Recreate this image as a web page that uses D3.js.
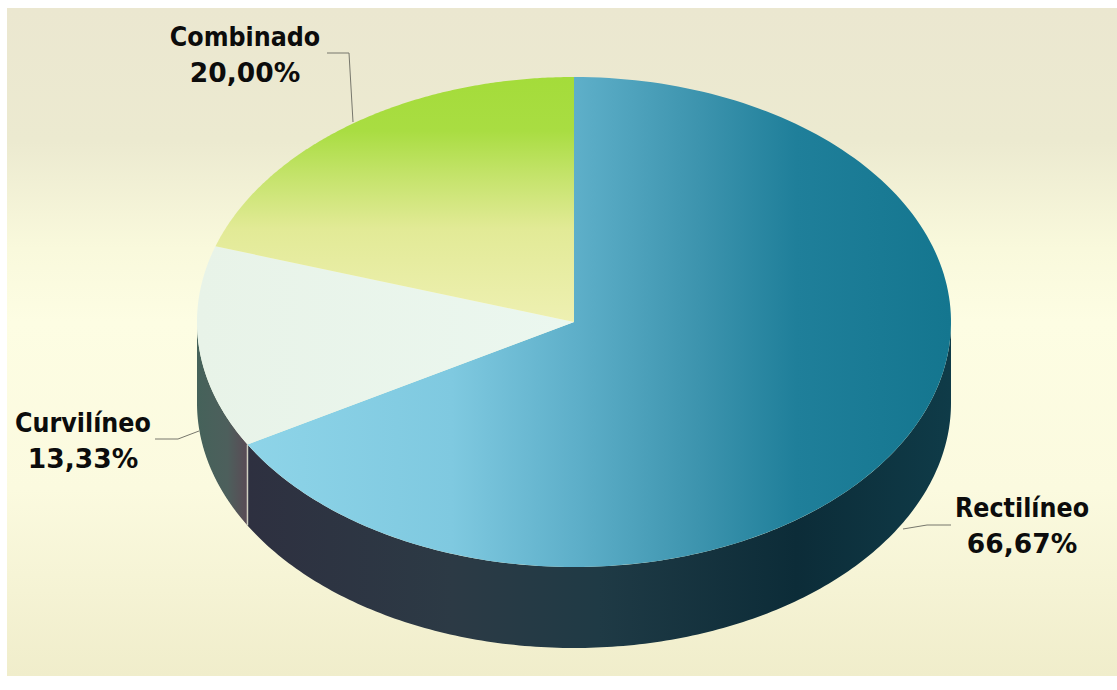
<!DOCTYPE html>
<html>
<head>
<meta charset="utf-8">
<script src="https://cdn.jsdelivr.net/npm/d3@7/dist/d3.min.js"></script>
<style>
html,body{margin:0;padding:0;background:#fff;overflow:hidden}
text{font-family:"DejaVu Sans",sans-serif;font-weight:700;fill:#0c0c0c;text-anchor:middle}
text.name{font-family:"DejaVu Sans Condensed","DejaVu Sans",sans-serif;font-stretch:condensed;font-size:26.5px}
text.share{font-size:26.5px}
</style>
</head>
<body>
<svg id="chart" width="1117" height="690"></svg>
<script>
// Shapes of road layout, as a share of the total
const categories = ["Rectilíneo", "Curvilíneo", "Combinado"];
const shares = [66.67, 13.33, 20.00];
const shareLabels = ["66,67%", "13,33%", "20,00%"];

const cx = 574, cy = 322, rx = 377, ry = 245, depth = 81;
const svg = d3.select("#chart");
const defs = svg.append("defs");

function gradient(id, x1, y1, x2, y2, stops) {
  const g = defs.append("linearGradient").attr("id", id)
    .attr("gradientUnits", "userSpaceOnUse")
    .attr("x1", x1).attr("y1", y1).attr("x2", x2).attr("y2", y2);
  stops.forEach(([o, c]) => g.append("stop").attr("offset", o).attr("stop-color", c));
  return `url(#${id})`;
}

const backdrop = gradient("backdrop", 0, 8, 0, 676, [
  [0, "#ebe7d0"], [0.2, "#ecead0"], [0.36, "#f9f9dc"], [0.47, "#fdfde3"], [0.72, "#fbfadf"], [1, "#f0edcb"]]);
const topFills = [
  gradient("topA", 248, 0, 951, 0, [[0, "#8ed4e8"], [0.29, "#7fc9e0"], [0.46, "#5fb0ca"], [0.64, "#3d94ae"], [0.78, "#1f7f9a"], [1, "#14768f"]]),
  gradient("topB", 197, 0, 574, 0, [[0, "#e8f3e8"], [1, "#ebf7ef"]]),
  gradient("topC", 0, 77, 0, 322, [[0, "#a4dc3a"], [0.22, "#a9dd42"], [0.4, "#c4e36a"], [0.62, "#e2ea96"], [1, "#eef0b2"]])
];
const sideFills = [
  gradient("sideA", 248, 0, 951, 0, [[0, "#2e3040"], [0.29, "#2c3a45"], [0.5, "#1f3a45"], [0.78, "#0c2c38"], [1, "#0f3b48"]]),
  gradient("sideB", 197, 0, 248, 0, [[0, "#45625a"], [0.6, "#4d5f5c"], [1, "#5a4a55"]])
];

svg.append("rect").attr("x", 7).attr("y", 8).attr("width", 1110).attr("height", 668).attr("fill", backdrop);

const slices = d3.pie().sort(null)(shares);

// Point on the top ellipse, angle measured clockwise from twelve o'clock
const px = a => cx + rx * Math.sin(a);
const py = a => cy - ry * Math.cos(a);
const sweep = (a0, a1) => d3.range(181).map(k => a0 + (a1 - a0) * k / 180);
const line = d3.line();

// Side wall: only the part of each slice on the near half of the disc shows
slices.forEach((s, i) => {
  const a0 = Math.max(s.startAngle, Math.PI / 2), a1 = Math.min(s.endAngle, 3 * Math.PI / 2);
  if (a1 <= a0) return;
  const edge = sweep(a0, a1);
  const pts = edge.map(a => [px(a), py(a)]).concat(edge.slice().reverse().map(a => [px(a), py(a) + depth]));
  svg.append("path").attr("d", line(pts) + "Z").attr("fill", sideFills[i]);
});

// Pale seam between the two visible wall segments
const seam = slices[0].endAngle;
svg.append("line").attr("x1", px(seam)).attr("y1", py(seam)).attr("x2", px(seam)).attr("y2", py(seam) + depth)
  .attr("stroke", "#cfcfc0").attr("stroke-width", 1.5);

// Top face, each slice flattened into the tilted ellipse
svg.append("g").selectAll("path").data(slices).join("path")
  .attr("d", d => line(sweep(d.startAngle, d.endAngle).map(a => [px(a), py(a)]).concat([[cx, cy]])) + "Z")
  .attr("fill", (d, i) => topFills[i]);

// Leader lines, one per label
const leaders = [
  [[951, 525], [927, 525], [903, 529]],
  [[155, 439], [178, 439], [199, 431]],
  [[327, 53], [349, 53], [353, 122]]
];
svg.append("g").selectAll("path").data(leaders).join("path")
  .attr("d", line).attr("fill", "none").attr("stroke", "#77776c").attr("stroke-width", 1);

const labelPos = [[1022, 517], [83, 432], [245, 46]];
categories.forEach((c, i) => {
  const [x, y] = labelPos[i];
  svg.append("text").attr("class", "name").attr("x", x).attr("y", y).text(c);
  svg.append("text").attr("class", "share").attr("x", x).attr("y", y + 36).text(shareLabels[i]);
});
</script>
</body>
</html>
